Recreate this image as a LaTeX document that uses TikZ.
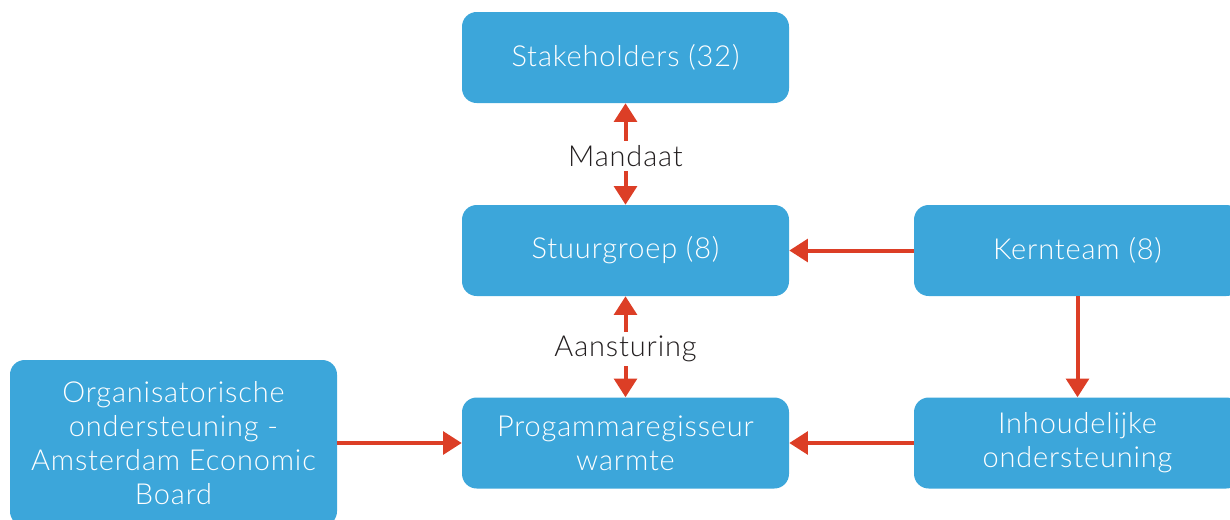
\documentclass[tikz,border=0pt]{standalone}
\usepackage{fontspec}
\setmainfont{Lato Light}[LetterSpace=3]
\usetikzlibrary{arrows.meta}
\definecolor{boxblue}{HTML}{3CA6DA}
\definecolor{arrred}{HTML}{DC3E26}
\definecolor{labgray}{HTML}{231F20}
\tikzset{
  orgbox/.style={rectangle, rounded corners=11pt, fill=boxblue, text=white,
    minimum width=245.25pt, minimum height=68.25pt, align=center, inner sep=2pt,
    font=\fontsize{21.7}{25.5}\selectfont},
  conn/.style={draw=arrred, line width=3pt, -{Triangle[width=17pt,length=14pt]}},
  biconn/.style={draw=arrred, line width=3pt, {Triangle[width=17pt,length=14pt]}-{Triangle[width=17pt,length=14pt]}},
  lab/.style={fill=white, text=labgray, inner sep=3pt, font=\fontsize{21.7}{24}\selectfont}
}
\begin{document}
\begin{tikzpicture}[x=0.75pt,y=-0.75pt]
\useasboundingbox (0,0) rectangle (1230,519);
\clip (0,0) rectangle (1230,519);
\node[orgbox] (stake) at (625.5,57.5) {Stakeholders (32)};
\node[orgbox] (stuur) at (625.5,250.5) {Stuurgroep (8)};
\node[orgbox] (kern) at (1077.5,250.5) {Kernteam (8)};
\node[orgbox] (prog) at (625.5,443) {Progammaregisseur\\warmte};
\node[orgbox] (inh) at (1077.5,443) {Inhoudelijke\\ondersteuning};
\node[orgbox, minimum height=124.5pt] (org) at (173.5,443) {Organisatorische\\ondersteuning -\\Amsterdam Economic\\Board};
\draw[biconn] (stake.south) -- node[lab, yshift=-1.5pt] (mandaat) {Mandaat} (stuur.north);
\draw[biconn] (stuur.south) -- node[lab, yshift=-1.5pt] (aanst) {Aansturing} (prog.north);
\draw[conn] (kern.west) -- (stuur.east);
\draw[conn] (kern.south) -- (inh.north);
\draw[conn] (inh.west) -- (prog.east);
\draw[conn] (org.east) -- (prog.west);
\end{tikzpicture}
\end{document}
